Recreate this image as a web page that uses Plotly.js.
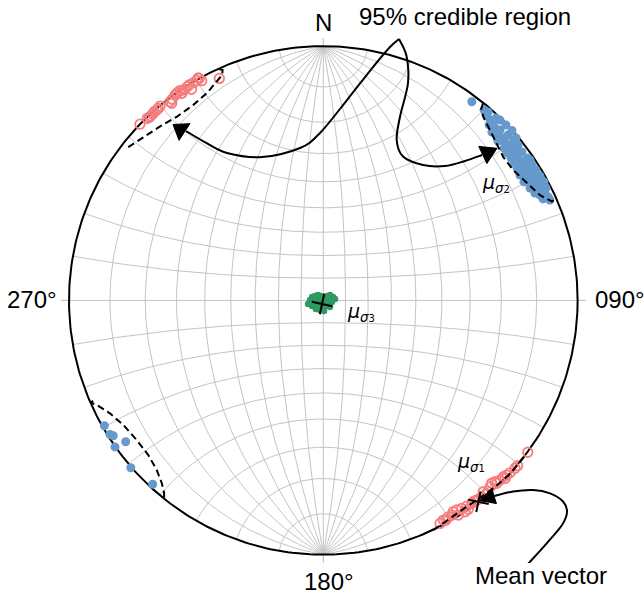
<!DOCTYPE html>
<html><head><meta charset="utf-8">
<script src="https://cdn.plot.ly/plotly-3.0.1.min.js"></script>
<style>html,body{margin:0;padding:0;background:#fff}#chart{width:644px;height:596px}</style>
</head><body><div id="chart"></div>
<script>
// ---- data (projected stereonet coordinates, unit primitive circle) ----
const sigma1A_x = [-0.721,-0.692,-0.679,-0.665,-0.649,-0.642,-0.655,-0.671,-0.684,-0.603,-0.594,-0.583,-0.574,-0.564,-0.553,-0.544,-0.535,-0.528,-0.518,-0.511,-0.498,-0.488,-0.478,-0.492,-0.409,-0.557,-0.576,-0.596];
const sigma1A_y = [0.693,0.716,0.725,0.742,0.755,0.764,0.749,0.733,0.720,0.781,0.791,0.808,0.817,0.825,0.827,0.830,0.840,0.847,0.830,0.856,0.864,0.873,0.864,0.875,0.873,0.814,0.814,0.775];
const sigma1B_x = [0.459,0.472,0.492,0.511,0.525,0.544,0.564,0.584,0.603,0.623,0.643,0.662,0.675,0.695,0.708,0.721,0.734,0.754,0.764,0.531,0.557,0.570,0.629,0.656,0.682,0.715,0.804,0.593,0.612,0.648,0.506,0.483];
const sigma1B_y = [-0.877,-0.864,-0.851,-0.831,-0.824,-0.818,-0.809,-0.798,-0.785,-0.774,-0.761,-0.719,-0.713,-0.706,-0.693,-0.687,-0.678,-0.660,-0.650,-0.844,-0.831,-0.821,-0.752,-0.733,-0.719,-0.700,-0.597,-0.789,-0.781,-0.750,-0.844,-0.864];
const sigma2A_x = [0.632,0.640,0.648,0.656,0.652,0.667,0.675,0.663,0.683,0.695,0.703,0.687,0.715,0.726,0.734,0.711,0.742,0.722,0.754,0.762,0.738,0.770,0.750,0.777,0.793,0.762,0.785,0.805,0.773,0.797,0.817,0.809,0.832,0.789,0.825,0.844,0.813,0.840,0.860,0.852,0.872,0.832,0.884,0.864,0.891,0.750,0.718,0.766,0.781,0.801,0.821,0.836,0.852,0.868,0.876,0.695,0.679,0.742,0.758,0.813,0.584];
const sigma2A_y = [0.749,0.729,0.741,0.709,0.690,0.702,0.678,0.662,0.650,0.670,0.639,0.627,0.623,0.650,0.611,0.599,0.591,0.580,0.599,0.572,0.560,0.552,0.540,0.532,0.544,0.521,0.513,0.521,0.493,0.489,0.501,0.473,0.481,0.466,0.454,0.462,0.442,0.434,0.442,0.414,0.422,0.422,0.407,0.399,0.395,0.631,0.690,0.611,0.584,0.560,0.532,0.513,0.489,0.466,0.442,0.709,0.717,0.668,0.639,0.552,0.781];
const sigma2B_x = [-0.861,-0.839,-0.826,-0.777,-0.819,-0.757,-0.671];
const sigma2B_y = [-0.493,-0.527,-0.532,-0.556,-0.576,-0.658,-0.723];
const sigma3_x = [-0.052,-0.044,-0.033,-0.021,-0.009,0.003,0.015,0.026,0.038,-0.037,-0.025,-0.013,-0.001,0.011,0.022,0.034,-0.044,-0.033,-0.021,-0.009,0.003,0.015,0.026,-0.029,-0.013,0.003,-0.017,-0.005,-0.060,0.046];
const sigma3_y = [0.002,0.013,0.017,0.021,0.017,0.013,0.017,0.021,0.013,-0.010,-0.002,0.002,-0.006,-0.002,0.002,-0.006,-0.022,-0.018,-0.022,-0.018,-0.026,-0.018,-0.026,-0.034,-0.038,-0.042,-0.010,0.006,-0.014,0.006];
const mean_x = [-0.005, 0.610];
const mean_y = [-0.014, -0.792];
const mean_angle = [12, 12];
// 95% credible region outlines
const region1A_x = [-0.410,-0.396,-0.398,-0.418,-0.457,-0.512,-0.575,-0.642,-0.709,-0.776];
const region1A_y = [0.910,0.906,0.886,0.863,0.816,0.768,0.723,0.684,0.639,0.597];
const region1B_x = [0.433,0.498,0.557,0.616,0.675,0.734,0.773,0.789];
const region1B_y = [-0.903,-0.856,-0.816,-0.777,-0.734,-0.683,-0.635,-0.616];
const region2A_x = [0.628,0.620,0.632,0.656,0.682,0.707,0.746,0.800,0.852,0.898,0.919];
const region2A_y = [0.776,0.749,0.717,0.670,0.619,0.565,0.513,0.462,0.414,0.389,0.399];
const region2B_x = [-0.905,-0.915,-0.891,-0.839,-0.786,-0.734,-0.688,-0.655,-0.635,-0.626,-0.626];
const region2B_y = [-0.395,-0.402,-0.411,-0.444,-0.490,-0.549,-0.608,-0.667,-0.719,-0.757,-0.781];
// labels
const dirLabels = ['N','090°','180°','270°'];
const muIdx = ['1','2','3'];
const mu_x = [0.518, 0.616, 0.085];
const mu_y = [-0.639, 0.458, -0.046];

// ---- geometry helpers ----
const CX=323.3, CY=300.4, R=254.3;
const toD = p => [(p[0]-CX)/R, (CY-p[1])/R];
const D = Math.PI/180;
function stereo(lon, lat){const l=lon*D,p=lat*D;const d=1+Math.cos(p)*Math.cos(l);return [Math.cos(p)*Math.sin(l)/d, Math.sin(p)/d];}
const gx=[], gy=[];
for(let lon=-80; lon<=80; lon+=10){for(let lat=-90; lat<=90; lat+=1){const q=stereo(lon,lat);gx.push(q[0]);gy.push(q[1]);}gx.push(null);gy.push(null);}
for(let lat=-80; lat<=80; lat+=10){for(let lon=-90; lon<=90; lon+=1){const q=stereo(lon,lat);gx.push(q[0]);gy.push(q[1]);}gx.push(null);gy.push(null);}
const cx=[], cy=[];
for(let a=0;a<=360;a++){cx.push(Math.cos(a*D));cy.push(Math.sin(a*D));}

const f=v=>v.toFixed(4);
function smoothPath(pts){
  const d=pts.map(toD);
  let s='M'+f(d[0][0])+','+f(d[0][1]);
  for(let i=0;i<d.length-1;i++){
    const p0=d[i-1]||d[i], p1=d[i], p2=d[i+1], p3=d[i+2]||d[i+1];
    const c1=[p1[0]+(p2[0]-p0[0])/6, p1[1]+(p2[1]-p0[1])/6];
    const c2=[p2[0]-(p3[0]-p1[0])/6, p2[1]-(p3[1]-p1[1])/6];
    s+=' C'+f(c1[0])+','+f(c1[1])+' '+f(c2[0])+','+f(c2[1])+' '+f(p2[0])+','+f(p2[1]);
  }
  return s;
}
function headPath(tip, mid, w){
  const dx=tip[0]-mid[0], dy=tip[1]-mid[1], L=Math.hypot(dx,dy), nx=-dy/L, ny=dx/L;
  const b1=toD([mid[0]+nx*w/2, mid[1]+ny*w/2]), b2=toD([mid[0]-nx*w/2, mid[1]-ny*w/2]), t=toD(tip);
  return 'M'+f(t[0])+','+f(t[1])+' L'+f(b1[0])+','+f(b1[1])+' L'+f(b2[0])+','+f(b2[1])+' Z';
}
const curve = p => ({type:'path', xref:'x', yref:'y', path:smoothPath(p), line:{color:'black', width:2}, layer:'above'});
const head = (t,m,w) => ({type:'path', xref:'x', yref:'y', path:headPath(t,m,w), fillcolor:'black', line:{color:'black', width:1}, layer:'above'});

const shapes = [
  curve([[399,39],[390,47],[373,67],[347,100],[320,133],[300,148],[262,157],[227,153],[203,141],[186,131]]),
  head([173,124.5],[184.5,132],20),
  curve([[399,39],[406.5,56],[408,83],[400,116.7],[396.7,140],[403,156.5],[423,165],[445,166],[465,161],[482,155]]),
  head([497,148.3],[482.8,155],19),
  curve([[527,565],[546.7,543.3],[562,525],[567,512],[563,501.5],[550,493.3],[533,490],[513,491.5],[494,496]]),
  head([480,500.5],[494,496],16)
];
// cardinal ticks
[[0,1],[1,0],[0,-1],[-1,0]].forEach(v=>shapes.push({type:'line',xref:'x',yref:'y',x0:v[0],y0:v[1],x1:v[0]*1.032,y1:v[1]*1.032,line:{color:'#c4c4c4',width:1.2},layer:'below'}));

const red='#F67D7D', blue='#6699CC', green='#2E9960';
const traces = [
  {x:gx, y:gy, mode:'lines', line:{color:'#c4c4c4', width:1}, hoverinfo:'skip'},
  {x:cx, y:cy, mode:'lines', line:{color:'black', width:2}, hoverinfo:'skip'},
  {x:sigma3_x, y:sigma3_y, mode:'markers', marker:{color:green, size:6.5}},
  {x:sigma2A_x, y:sigma2A_y, mode:'markers', marker:{color:blue, size:9}},
  {x:sigma2B_x, y:sigma2B_y, mode:'markers', marker:{color:blue, size:9}},
  {x:sigma1A_x, y:sigma1A_y, mode:'markers', marker:{symbol:'circle-open', color:red, size:9.5, line:{width:1.8}}},
  {x:sigma1B_x, y:sigma1B_y, mode:'markers', marker:{symbol:'circle-open', color:red, size:9.5, line:{width:1.8}}},
  {x:region1A_x, y:region1A_y, mode:'lines', line:{color:'black', width:2, dash:'7px,4px'}},
  {x:region1B_x, y:region1B_y, mode:'lines', line:{color:'black', width:2, dash:'7px,4px'}},
  {x:region2A_x, y:region2A_y, mode:'lines', line:{color:'black', width:2, dash:'7px,4px'}},
  {x:region2B_x, y:region2B_y, mode:'lines', line:{color:'black', width:2, dash:'7px,4px'}},
  {x:mean_x, y:mean_y, mode:'markers', marker:{symbol:'cross-thin', size:15, angle:mean_angle, color:'black', line:{color:'black', width:2}}}
];

const FONT='Liberation Sans, Arial, sans-serif';
const pp = (px,py) => [(px-60)/526, (563-py)/526];
function lab(text, px, py, xa, size){const q=pp(px,py);return {text, xref:'paper', yref:'paper', x:q[0], y:q[1], xanchor:xa, yanchor:'middle', showarrow:false, font:{family:FONT, size:size||24, color:'black'}};}
const annotations = [
  lab(dirLabels[0], 323.3, 22, 'center'),
  lab(dirLabels[1], 593, 299, 'left'),
  lab(dirLabels[2], 329, 581, 'center'),
  lab(dirLabels[3], 59, 299, 'right'),
  lab('95% credible region', 357, 17, 'left'),
  lab('Mean vector', 473, 575, 'left')
];
muIdx.forEach((n,i)=>annotations.push({text:'<i>μ</i><sub><i>σ</i><span style="font-size:10px">'+n+'</span></sub>', xref:'x', yref:'y', x:mu_x[i], y:mu_y[i], xanchor:'left', yanchor:'middle', showarrow:false, font:{family:'DejaVu Sans, sans-serif', size:19, color:'black'}}));

const layout = {
  width:644, height:596, margin:{l:60, r:58, t:37, b:33},
  xaxis:{range:[-1.0354,1.0330], visible:false, fixedrange:true},
  yaxis:{range:[-1.0326,1.0358], visible:false, fixedrange:true},
  showlegend:false, plot_bgcolor:'white', paper_bgcolor:'white',
  shapes, annotations, hovermode:false
};
Plotly.newPlot('chart', traces, layout, {staticPlot:true, displayModeBar:false});
</script></body></html>
